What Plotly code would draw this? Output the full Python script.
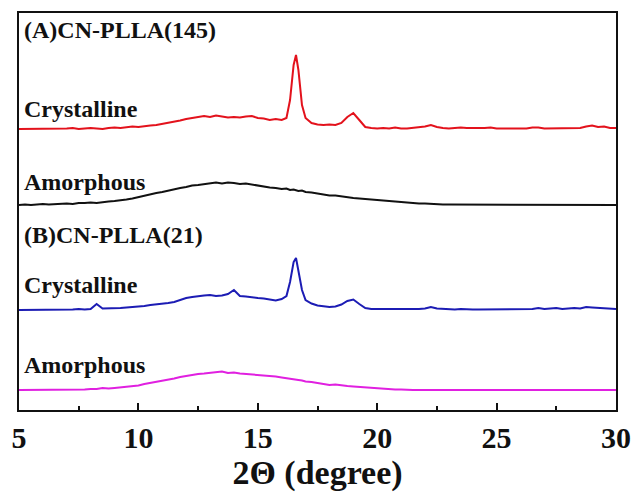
import plotly.graph_objects as go

# 2-theta sample positions (degree)
two_theta = [
    5.0, 5.25, 5.5, 5.75, 6.0, 6.25, 6.5, 6.75, 7.0, 7.25, 7.5, 7.75,
    8.0, 8.25, 8.5, 8.75, 9.0, 9.25, 9.5, 9.75, 10.0, 10.25, 10.5, 10.75,
    11.0, 11.25, 11.5, 11.75, 12.0, 12.25, 12.5, 12.75, 13.0, 13.25, 13.5, 13.75,
    14.0, 14.25, 14.5, 14.75, 15.0, 15.25, 15.5, 15.75, 16.0,
    16.2, 16.35, 16.5, 16.6, 16.7, 16.85,
    17.0, 17.25, 17.5, 17.75, 18.0, 18.25, 18.5, 18.75, 19.0, 19.25, 19.5, 19.75,
    20.0, 20.25, 20.5, 20.75, 21.0, 21.25, 21.5, 21.75, 22.0, 22.25, 22.5, 22.75,
    23.0, 23.25, 23.5, 23.75, 24.0, 24.25, 24.5, 24.75, 25.0, 25.25, 25.5, 25.75,
    26.0, 26.25, 26.5, 26.75, 27.0, 27.25, 27.5, 27.75, 28.0, 28.25, 28.5, 28.75,
    29.0, 29.25, 29.5, 29.75, 30.0,
]

# Intensities (arbitrary units, curves already offset vertically)
a_crystalline = [
    281, 281, 281.5, 281, 281, 281.5, 281, 281, 281.5, 282, 281, 281.5,
    282, 281.5, 281, 282, 282.5, 282, 283, 283.5, 283, 284, 284.5, 285,
    286, 287, 288, 289.5, 291, 292, 293.5, 294, 293, 294.5, 293.5, 292.5,
    293, 292.5, 293.5, 294, 292, 291.5, 290, 291, 290,
    292, 310, 345, 355, 340, 305,
    292, 287, 285.5, 285, 285.5, 285, 287, 293, 297, 290, 283, 282,
    281.5, 282, 281.5, 282.5, 281.5, 281.5, 282, 282.5, 283.5, 285, 283, 282,
    281.5, 282, 282.5, 282, 282, 281.5, 282, 282.5, 281.5, 281.5, 281.5, 281.5,
    281.5, 281.5, 282.5, 282.5, 281.5, 281.5, 281.5, 282, 281.5, 282, 282, 283.5,
    284.5, 283, 283.5, 282, 282,
]
a_amorphous = [
    205, 205.5, 205, 205.5, 206, 205.5, 206, 206.5, 206.5, 206, 207, 207,
    207.5, 207, 208, 208.5, 209, 209.5, 210.5, 211.5, 213, 214, 215.5, 217,
    218, 219.5, 220.5, 222, 223, 224.5, 225, 226, 226.5, 227.5, 226.5, 227.5,
    227, 226, 226.5, 225.5, 224, 223.5, 222.5, 222, 221,
    221.5, 220, 220.5, 219.5, 219, 219.5,
    218, 217.5, 216.5, 216, 214.5, 214.5, 213.5, 213, 212, 211.5, 211, 210,
    209.5, 209, 208.5, 208.5, 208, 207.5, 207, 206.5, 206.5, 206, 206, 205.5,
    205.5, 205.5, 205, 205, 205.5, 205, 205.5, 205, 205, 205.5, 205, 205,
    205, 205, 205.5, 205, 205, 205, 205, 205, 205, 205.5, 205, 205.5,
    205, 205.5, 205, 205, 205,
]
b_crystalline = [
    100, 100, 100.5, 100, 100, 100, 100.5, 100, 100, 100.5, 101, 100.5,
    101, 106, 101.5, 101.5, 102, 102, 102.5, 103, 103, 104, 105, 105.5,
    106.5, 107, 108, 110, 112, 113, 114, 114.5, 115, 114, 114.5, 116,
    120, 114, 113.5, 112.5, 112, 111.5, 110.5, 109.5, 111,
    114, 128, 148, 152, 140, 120,
    110, 106.5, 104.5, 104, 103, 103.5, 105.5, 109, 110.5, 106, 102, 101,
    101, 100.5, 101, 101, 100.5, 100.5, 100.5, 101, 101.5, 103, 101.5, 101,
    100.5, 100.5, 101, 100.5, 100.5, 100.5, 100.5, 101, 101, 100.5, 100.5, 100.5,
    100.5, 100.5, 101, 102, 101, 101.5, 102, 101, 101.5, 102, 101.5, 103,
    102.5, 102, 101.5, 101, 101,
]
b_amorphous = [
    20, 20, 20, 20, 20, 20, 20.5, 20, 20, 20.5, 20.5, 20.5,
    21, 21, 22, 21.5, 22, 22.5, 23, 23.5, 24.5, 26, 27, 28,
    29, 30.5, 31.5, 33, 34, 35.5, 36, 36.5, 37, 37.5, 38.5, 37,
    37.5, 36.5, 36, 36, 35.5, 35, 34, 33.5, 32.5,
    32, 31.5, 31, 30.5, 30, 29.5,
    28.5, 28, 27, 26.5, 25, 25.5, 24.5, 24, 23.5, 23, 22.5, 22,
    21.5, 21.5, 21, 20.5, 20.5, 20, 20, 20, 20, 20.5, 20, 20,
    20, 20, 20, 20.5, 20, 20, 20, 20, 20, 20, 20, 20,
    20, 20, 20, 20, 20, 20, 20, 20, 20, 20, 20.5, 20,
    20, 20, 20, 20, 20,
]

tick_vals = [5, 10, 15, 20, 25, 30]
tick_text = ["5", "10", "15", "20", "25", "30"]

series = [
    (a_crystalline, "#e3121c"),
    (a_amorphous, "#111111"),
    (b_crystalline, "#1c1cb4"),
    (b_amorphous, "#e020e0"),
]

fig = go.Figure()
for ys, col in series:
    fig.add_trace(go.Scatter(x=two_theta, y=ys, mode="lines",
                             line=dict(color=col, width=2), showlegend=False))

labels = [
    ("(A)CN-PLLA(145)", 380),
    ("Crystalline", 301),
    ("Amorphous", 228),
    ("(B)CN-PLLA(21)", 175),
    ("Crystalline", 125),
    ("Amorphous", 45),
]
serif = "Liberation Serif"
for txt, yv in labels:
    fig.add_annotation(x=5.12, y=yv, xref="x", yref="y", text=txt,
                       showarrow=False, xanchor="left", yanchor="middle",
                       font=dict(family=serif, size=24, color="#111111", weight="bold"))

fig.update_layout(
    width=634, height=493,
    margin=dict(l=19, r=18, t=13, b=83),
    paper_bgcolor="white", plot_bgcolor="white",
    xaxis=dict(
        range=[5, 30], tickvals=tick_vals, ticktext=tick_text,
        automargin=False,
        ticks="inside", ticklen=7, tickwidth=2, tickcolor="#111111",
        showline=True, linecolor="#111111", linewidth=2, mirror=True,
        showgrid=False, zeroline=False,
        minor=dict(dtick=2.5, tick0=5, ticks="inside", ticklen=4, tickwidth=1.5, tickcolor="#111111", showgrid=False),
        tickfont=dict(family=serif, size=30, color="#111111", weight="bold"),
        title=dict(text="2\u0398 (degree)", standoff=6,
                   font=dict(family=serif, size=34, color="#111111", weight="bold")),
    ),
    yaxis=dict(
        range=[0, 397], showticklabels=False, ticks="", automargin=False,
        showline=True, linecolor="#111111", linewidth=2, mirror=True,
        showgrid=False, zeroline=False,
    ),
)

fig.write_html("out.html")
